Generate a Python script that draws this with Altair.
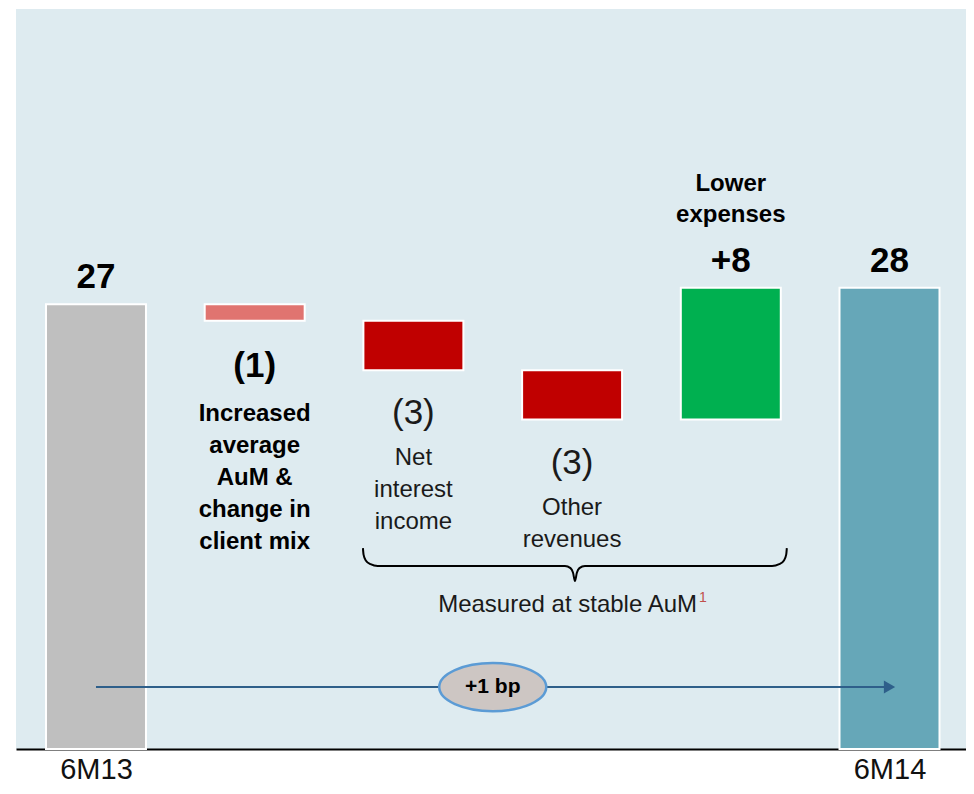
import altair as alt
import pandas as pd

# ---------------- data ----------------
categories = ["6M13", "Increased average AuM & change in client mix",
              "Net interest income", "Other revenues", "Lower expenses", "6M14"]
values = [27, -1, -3, -3, 8, 28]
kinds = ["total", "delta", "delta", "delta", "delta", "total"]
value_labels = ["27", "(1)", "(3)", "(3)", "+8", "28"]
value_bold = [True, True, False, False, True, True]
descriptions = ["", "Increased\naverage\nAuM &\nchange in\nclient mix",
                "Net\ninterest\nincome", "Other\nrevenues", "Lower\nexpenses", ""]
desc_bold = [False, True, False, False, True, False]
bar_colors = ["#bfbfbf", "#e07470", "#c00000", "#c00000", "#00b050", "#66a7b8"]
axis_labels = ["6M13", "", "", "", "", "6M14"]

# brace annotation (x in category-index units, y in value units)
brace_x = [1.682, 1.686, 1.700, 1.730, 1.775, 2.955, 2.990, 3.006, 3.018, 3.030, 3.046, 3.081,
           4.260, 4.305, 4.335, 4.349, 4.353]
brace_y = [12.20, 11.80, 11.45, 11.22, 11.11, 11.11, 10.98, 10.70, 10.20, 10.70, 10.98, 11.11,
           11.11, 11.22, 11.45, 11.80, 12.20]
brace_text = "Measured at stable AuM"
brace_note = "1"
brace_text_pos = (3.787, 8.32)
brace_note_pos = (3.80, 8.95)

bp_text = "+1 bp"
arrow_from, arrow_to, arrow_level, bubble_x = 0, 5, 3.76, 2.50

# ---------------- derived table ----------------
rows = []
running = 0
for i, (c, v, k) in enumerate(zip(categories, values, kinds)):
    if k == "total":
        start, end = 0, v
        running = v
    else:
        start, end = running, running + v
        running = end
    rows.append(dict(idx=i, category=c, value=v, kind=k, start=start, end=end,
                     color=bar_colors[i], vlabel=value_labels[i], vbold=value_bold[i],
                     desc=descriptions[i], dbold=desc_bold[i],
                     lo=min(start, end), hi=max(start, end)))
df = pd.DataFrame(rows)

BOLD = "Liberation Sans"
NORM = "Liberation Sans"

xscale = alt.Scale(domain=[-0.504, 5.482], nice=False, zero=False)
yscale = alt.Scale(domain=[0, 44.93], nice=False, zero=False)

label_expr = "[" + ",".join("'" + s + "'" for s in axis_labels) + "][datum.value]"

base = alt.Chart(df)

bars = base.mark_rect(stroke="white", strokeWidth=2).encode(
    x=alt.X("xl:Q", scale=xscale,
            axis=alt.Axis(values=[0, 5], labelExpr=label_expr, title=None, grid=False,
                          ticks=False, domain=True, domainColor="black", domainWidth=2,
                          labelFontSize=29, labelFont=NORM, labelColor="#111111",
                          labelPadding=6, labelFontWeight="normal")),
    x2="xr:Q",
    y=alt.Y("start:Q", scale=yscale, axis=None),
    y2="end:Q",
    color=alt.Color("color:N", scale=None),
).transform_calculate(xl="datum.idx - 0.315", xr="datum.idx + 0.315")

up = (alt.datum.value >= 0)
down = (alt.datum.value < 0)

top_labels = base.transform_filter(up).mark_text(
    dy=-16, baseline="alphabetic", fontSize=35, fontWeight="bold", font=BOLD, color="black"
).encode(x=alt.X("idx:Q", scale=xscale), y=alt.Y("hi:Q", scale=yscale), text="vlabel:N")

neg_bold = base.transform_filter(down & alt.datum.vbold).mark_text(
    dy=56, baseline="alphabetic", fontSize=35, fontWeight="bold", font=BOLD, color="black"
).encode(x=alt.X("idx:Q", scale=xscale), y=alt.Y("lo:Q", scale=yscale), text="vlabel:N")

neg_norm = base.transform_filter(down & ~alt.datum.vbold).mark_text(
    dy=54, baseline="alphabetic", fontSize=35, fontWeight=300, font=NORM, color="#1a1a1a"
).encode(x=alt.X("idx:Q", scale=xscale), y=alt.Y("lo:Q", scale=yscale), text="vlabel:N")

desc_below_bold = base.transform_filter(down & alt.datum.dbold).mark_text(
    dy=100, baseline="alphabetic", fontSize=24, fontWeight="bold", font=BOLD,
    color="black", lineBreak="\n", lineHeight=32
).encode(x=alt.X("idx:Q", scale=xscale), y=alt.Y("lo:Q", scale=yscale), text="desc:N")

desc_below_norm = base.transform_filter(down & ~alt.datum.dbold).mark_text(
    dy=95, baseline="alphabetic", fontSize=24, fontWeight=300, font=NORM,
    color="#1a1a1a", lineBreak="\n", lineHeight=32
).encode(x=alt.X("idx:Q", scale=xscale), y=alt.Y("lo:Q", scale=yscale), text="desc:N")

desc_above = base.transform_filter(up & (alt.datum.desc != "")).mark_text(
    dy=-97, baseline="alphabetic", fontSize=24, fontWeight="bold", font=BOLD,
    color="black", lineBreak="\n", lineHeight=31
).encode(x=alt.X("idx:Q", scale=xscale), y=alt.Y("hi:Q", scale=yscale), text="desc:N")

brace_df = pd.DataFrame({"bx": brace_x, "by": brace_y, "o": list(range(len(brace_x)))})
brace = alt.Chart(brace_df).mark_line(color="black", strokeWidth=2, interpolate="monotone").encode(
    x=alt.X("bx:Q", scale=xscale), y=alt.Y("by:Q", scale=yscale), order="o:Q")

note_df = pd.DataFrame({"tx": [brace_text_pos[0]], "ty": [brace_text_pos[1]], "t": [brace_text],
                        "nx": [brace_note_pos[0]], "ny": [brace_note_pos[1]], "n": [brace_note]})
brace_label = alt.Chart(note_df).mark_text(
    align="right", baseline="alphabetic", fontSize=24, fontWeight=300, font=NORM, color="#1a1a1a"
).encode(x=alt.X("tx:Q", scale=xscale), y=alt.Y("ty:Q", scale=yscale), text="t:N")
brace_sup = alt.Chart(note_df).mark_text(
    align="left", baseline="alphabetic", fontSize=14, font=NORM, color="#c0504d"
).encode(x=alt.X("nx:Q", scale=xscale), y=alt.Y("ny:Q", scale=yscale), text="n:N")

arrow_df = pd.DataFrame({"a0": [arrow_from], "a1": [arrow_to], "ay": [arrow_level],
                         "bx": [bubble_x], "t": [bp_text]})
arrow_line = alt.Chart(arrow_df).mark_rule(color="#2e5f8a", strokeWidth=2).encode(
    x=alt.X("a0:Q", scale=xscale), x2="a1:Q", y=alt.Y("ay:Q", scale=yscale))
arrow_head = alt.Chart(arrow_df).mark_point(
    shape="triangle-right", filled=True, color="#2e5f8a", size=170, opacity=1
).encode(x=alt.X("a1:Q", scale=xscale), y=alt.Y("ay:Q", scale=yscale))
ellipse_path = "M -1 0 A 1 0.45 0 1 0 1 0 A 1 0.45 0 1 0 -1 0 Z"
bubble = alt.Chart(arrow_df).mark_point(
    shape=ellipse_path, filled=True, fill="#cdc6c3", stroke="#5b9bd5", strokeWidth=2.5,
    size=107 * 107, opacity=1
).encode(x=alt.X("bx:Q", scale=xscale), y=alt.Y("ay:Q", scale=yscale))
bubble_text = alt.Chart(arrow_df).mark_text(
    baseline="middle", fontSize=21, fontWeight="bold", font=BOLD, color="black"
).encode(x=alt.X("bx:Q", scale=xscale), y=alt.Y("ay:Q", scale=yscale), text="t:N")

chart = alt.layer(
    bars, top_labels, neg_bold, neg_norm, desc_below_bold, desc_below_norm, desc_above,
    brace, brace_label, brace_sup, arrow_line, arrow_head, bubble, bubble_text
).properties(
    width=950, height=740,
    autosize=alt.AutoSizeParams(type="none"),
    padding={"left": 8, "top": 1, "right": 0, "bottom": 37},
    background="white",
).configure_view(fill="#deebf0", strokeWidth=0)

chart.save("out.html", embed_options={"renderer": "svg", "actions": False})
